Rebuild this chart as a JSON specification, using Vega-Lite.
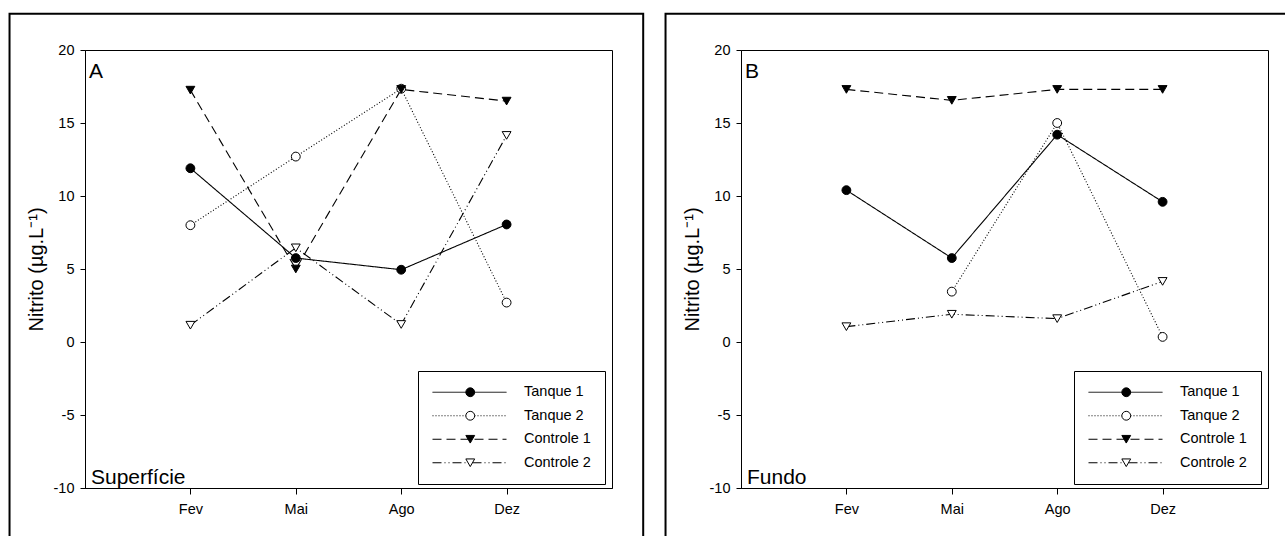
{
  "$schema": "https://vega.github.io/schema/vega-lite/v6.json",
  "padding": {"left": 8, "top": 12, "right": 0, "bottom": 0},
  "background": "white",
  "config": {
    "font": "Liberation Sans",
    "view": {"stroke": "black", "strokeWidth": 1},
    "axis": {
      "grid": false, "domainColor": "black", "tickColor": "black", "labelColor": "black",
      "labelFont": "Liberation Sans", "labelFontSize": 14.5, "tickSize": 5, "domainWidth": 1, "tickWidth": 1,
      "titleFont": "Liberation Sans", "titleFontWeight": "normal", "titleColor": "black"
    }
  },
  "datasets": {
    "dados": [
      {"painel": "A", "serie": "Tanque 1", "mes": 1, "valor": 11.9},
      {"painel": "A", "serie": "Tanque 1", "mes": 2, "valor": 5.75},
      {"painel": "A", "serie": "Tanque 1", "mes": 3, "valor": 4.95},
      {"painel": "A", "serie": "Tanque 1", "mes": 4, "valor": 8.05},
      {"painel": "A", "serie": "Tanque 2", "mes": 1, "valor": 8.0},
      {"painel": "A", "serie": "Tanque 2", "mes": 2, "valor": 12.7},
      {"painel": "A", "serie": "Tanque 2", "mes": 3, "valor": 17.35},
      {"painel": "A", "serie": "Tanque 2", "mes": 4, "valor": 2.7},
      {"painel": "A", "serie": "Controle 1", "mes": 1, "valor": 17.25},
      {"painel": "A", "serie": "Controle 1", "mes": 2, "valor": 5.0},
      {"painel": "A", "serie": "Controle 1", "mes": 3, "valor": 17.3},
      {"painel": "A", "serie": "Controle 1", "mes": 4, "valor": 16.5},
      {"painel": "A", "serie": "Controle 2", "mes": 1, "valor": 1.15},
      {"painel": "A", "serie": "Controle 2", "mes": 2, "valor": 6.45},
      {"painel": "A", "serie": "Controle 2", "mes": 3, "valor": 1.2},
      {"painel": "A", "serie": "Controle 2", "mes": 4, "valor": 14.15},
      {"painel": "B", "serie": "Tanque 1", "mes": 1, "valor": 10.4},
      {"painel": "B", "serie": "Tanque 1", "mes": 2, "valor": 5.75},
      {"painel": "B", "serie": "Tanque 1", "mes": 3, "valor": 14.2},
      {"painel": "B", "serie": "Tanque 1", "mes": 4, "valor": 9.6},
      {"painel": "B", "serie": "Tanque 2", "mes": 2, "valor": 3.45},
      {"painel": "B", "serie": "Tanque 2", "mes": 3, "valor": 15.0},
      {"painel": "B", "serie": "Tanque 2", "mes": 4, "valor": 0.35},
      {"painel": "B", "serie": "Controle 1", "mes": 1, "valor": 17.3},
      {"painel": "B", "serie": "Controle 1", "mes": 2, "valor": 16.55},
      {"painel": "B", "serie": "Controle 1", "mes": 3, "valor": 17.3},
      {"painel": "B", "serie": "Controle 1", "mes": 4, "valor": 17.3},
      {"painel": "B", "serie": "Controle 2", "mes": 1, "valor": 1.05},
      {"painel": "B", "serie": "Controle 2", "mes": 2, "valor": 1.9},
      {"painel": "B", "serie": "Controle 2", "mes": 3, "valor": 1.6},
      {"painel": "B", "serie": "Controle 2", "mes": 4, "valor": 4.15}
    ]
  },
  "spacing": 19,
  "resolve": {
    "scale": {"shape": "independent", "color": "independent", "strokeDash": "independent"},
    "legend": {"shape": "independent", "color": "independent", "strokeDash": "independent"}
  },
  "hconcat": [
    {
      "width": 527, "height": 438,
      "layer": [
        {
          "data": {"values": [{}]},
          "mark": {"type": "rect", "filled": false, "stroke": "black", "strokeWidth": 2, "clip": false},
          "encoding": {
            "x": {"datum": -0.716, "type": "quantitative", "scale": {"domain": [0, 5], "nice": false, "zero": false}},
            "x2": {"datum": 5.296},
            "y": {"datum": 22.49, "type": "quantitative", "scale": {"domain": [-10, 20], "nice": false, "zero": false}},
            "y2": {"datum": -14}
          }
        },
        {
          "data": {"name": "dados"},
          "transform": [{"filter": "datum.painel == 'A'"}],
          "mark": {"type": "line", "color": "black", "strokeWidth": 1.1},
          "encoding": {
            "x": {"field": "mes", "type": "quantitative", "scale": {"domain": [0, 5], "nice": false, "zero": false},
                  "axis": {"values": [1, 2, 3, 4], "labelExpr": "['','Fev','Mai','Ago','Dez'][datum.value]", "title": null, "tickSize": 6, "labelPadding": 8}},
            "y": {"field": "valor", "type": "quantitative", "scale": {"domain": [-10, 20], "nice": false, "zero": false},
                  "axis": {"values": [-10, -5, 0, 5, 10, 15, 20], "labelExpr": "datum.value < 0 ? '-' + abs(datum.value) : '' + datum.value", "title": "Nitrito (µg.L⁻¹)", "titleFontSize": 20, "labelPadding": 6, "titlePadding": 7}},
            "strokeDash": {"field": "serie", "type": "nominal", "sort": ["Tanque 1", "Tanque 2", "Controle 1", "Controle 2"],
              "scale": {"range": [[1, 0], [1, 2], [9, 5], [9, 3, 1, 3, 1, 3]]},
              "legend": {"orient": "none", "legendX": 333, "legendY": 321, "title": null, "symbolType": "stroke", "symbolSize": 5476,
                "symbolStrokeWidth": 1, "symbolStrokeColor": "black", "labelFontSize": 14.5, "labelFont": "Liberation Sans", "labelColor": "black",
                "labelOffset": 17, "padding": 14, "rowPadding": 7.5, "clipHeight": 14.5, "strokeColor": "black", "fillColor": "white", "zindex": 0}}
          }
        },
        {
          "data": {"name": "dados"},
          "transform": [{"filter": "datum.painel == 'A'"}],
          "mark": {"type": "point", "filled": true, "stroke": "black", "strokeWidth": 1, "size": 78, "opacity": 1},
          "encoding": {
            "x": {"field": "mes", "type": "quantitative"},
            "y": {"field": "valor", "type": "quantitative"},
            "shape": {"field": "serie", "type": "nominal",
              "scale": {"domain": ["Tanque 1", "Tanque 2", "Controle 1", "Controle 2"], "range": ["circle", "circle", "triangle-down", "triangle-down"]},
              "legend": {"orient": "none", "legendX": 364, "legendY": 321, "title": null, "symbolSize": 78,
                "symbolStrokeWidth": 1, "labelFontSize": 14.5, "labelExpr": "''", "padding": 14, "rowPadding": 7.5, "clipHeight": 14.5, "zindex": 1,
                "encode": {"symbols": {"stroke": {"value": "black"}, "strokeWidth": {"value": 1}}}}},
            "color": {"field": "serie", "type": "nominal",
              "scale": {"domain": ["Tanque 1", "Tanque 2", "Controle 1", "Controle 2"], "range": ["black", "white", "black", "white"]},
              "legend": {"orient": "none", "legendX": 364, "legendY": 321, "title": null, "symbolSize": 78,
                "symbolStrokeWidth": 1, "labelFontSize": 14.5, "labelExpr": "''", "padding": 14, "rowPadding": 7.5, "clipHeight": 14.5, "zindex": 1,
                "encode": {"symbols": {"stroke": {"value": "black"}, "strokeWidth": {"value": 1}}}}}
          }
        },
        {
          "data": {"values": [{}]},
          "mark": {"type": "text", "text": "A", "font": "Liberation Sans", "fontSize": 21, "align": "left", "baseline": "alphabetic", "dx": 4, "dy": 28, "color": "black"},
          "encoding": {"x": {"datum": 0, "type": "quantitative"}, "y": {"datum": 20, "type": "quantitative"}}
        },
        {
          "data": {"values": [{}]},
          "mark": {"type": "text", "text": "Superfície", "font": "Liberation Sans", "fontSize": 21, "align": "left", "baseline": "alphabetic", "dx": 6, "dy": -4, "color": "black"},
          "encoding": {"x": {"datum": 0, "type": "quantitative"}, "y": {"datum": -10, "type": "quantitative"}}
        }
      ]
    },
    {
      "width": 527, "height": 438,
      "layer": [
        {
          "data": {"values": [{}]},
          "mark": {"type": "rect", "filled": false, "stroke": "black", "strokeWidth": 2, "clip": false},
          "encoding": {
            "x": {"datum": -0.716, "type": "quantitative", "scale": {"domain": [0, 5], "nice": false, "zero": false}},
            "x2": {"datum": 5.296},
            "y": {"datum": 22.49, "type": "quantitative", "scale": {"domain": [-10, 20], "nice": false, "zero": false}},
            "y2": {"datum": -14}
          }
        },
        {
          "data": {"name": "dados"},
          "transform": [{"filter": "datum.painel == 'B'"}],
          "mark": {"type": "line", "color": "black", "strokeWidth": 1.1},
          "encoding": {
            "x": {"field": "mes", "type": "quantitative", "scale": {"domain": [0, 5], "nice": false, "zero": false},
                  "axis": {"values": [1, 2, 3, 4], "labelExpr": "['','Fev','Mai','Ago','Dez'][datum.value]", "title": null, "tickSize": 6, "labelPadding": 8}},
            "y": {"field": "valor", "type": "quantitative", "scale": {"domain": [-10, 20], "nice": false, "zero": false},
                  "axis": {"values": [-10, -5, 0, 5, 10, 15, 20], "labelExpr": "datum.value < 0 ? '-' + abs(datum.value) : '' + datum.value", "title": "Nitrito (µg.L⁻¹)", "titleFontSize": 20, "labelPadding": 6, "titlePadding": 7}},
            "strokeDash": {"field": "serie", "type": "nominal", "sort": ["Tanque 1", "Tanque 2", "Controle 1", "Controle 2"],
              "scale": {"range": [[1, 0], [1, 2], [9, 5], [9, 3, 1, 3, 1, 3]]},
              "legend": {"orient": "none", "legendX": 333, "legendY": 321, "title": null, "symbolType": "stroke", "symbolSize": 5476,
                "symbolStrokeWidth": 1, "symbolStrokeColor": "black", "labelFontSize": 14.5, "labelFont": "Liberation Sans", "labelColor": "black",
                "labelOffset": 17, "padding": 14, "rowPadding": 7.5, "clipHeight": 14.5, "strokeColor": "black", "fillColor": "white", "zindex": 0}}
          }
        },
        {
          "data": {"name": "dados"},
          "transform": [{"filter": "datum.painel == 'B'"}],
          "mark": {"type": "point", "filled": true, "stroke": "black", "strokeWidth": 1, "size": 78, "opacity": 1},
          "encoding": {
            "x": {"field": "mes", "type": "quantitative"},
            "y": {"field": "valor", "type": "quantitative"},
            "shape": {"field": "serie", "type": "nominal",
              "scale": {"domain": ["Tanque 1", "Tanque 2", "Controle 1", "Controle 2"], "range": ["circle", "circle", "triangle-down", "triangle-down"]},
              "legend": {"orient": "none", "legendX": 364, "legendY": 321, "title": null, "symbolSize": 78,
                "symbolStrokeWidth": 1, "labelFontSize": 14.5, "labelExpr": "''", "padding": 14, "rowPadding": 7.5, "clipHeight": 14.5, "zindex": 1,
                "encode": {"symbols": {"stroke": {"value": "black"}, "strokeWidth": {"value": 1}}}}},
            "color": {"field": "serie", "type": "nominal",
              "scale": {"domain": ["Tanque 1", "Tanque 2", "Controle 1", "Controle 2"], "range": ["black", "white", "black", "white"]},
              "legend": {"orient": "none", "legendX": 364, "legendY": 321, "title": null, "symbolSize": 78,
                "symbolStrokeWidth": 1, "labelFontSize": 14.5, "labelExpr": "''", "padding": 14, "rowPadding": 7.5, "clipHeight": 14.5, "zindex": 1,
                "encode": {"symbols": {"stroke": {"value": "black"}, "strokeWidth": {"value": 1}}}}}
          }
        },
        {
          "data": {"values": [{}]},
          "mark": {"type": "text", "text": "B", "font": "Liberation Sans", "fontSize": 21, "align": "left", "baseline": "alphabetic", "dx": 4, "dy": 28, "color": "black"},
          "encoding": {"x": {"datum": 0, "type": "quantitative"}, "y": {"datum": 20, "type": "quantitative"}}
        },
        {
          "data": {"values": [{}]},
          "mark": {"type": "text", "text": "Fundo", "font": "Liberation Sans", "fontSize": 21, "align": "left", "baseline": "alphabetic", "dx": 6, "dy": -4, "color": "black"},
          "encoding": {"x": {"datum": 0, "type": "quantitative"}, "y": {"datum": -10, "type": "quantitative"}}
        }
      ]
    }
  ]
}
